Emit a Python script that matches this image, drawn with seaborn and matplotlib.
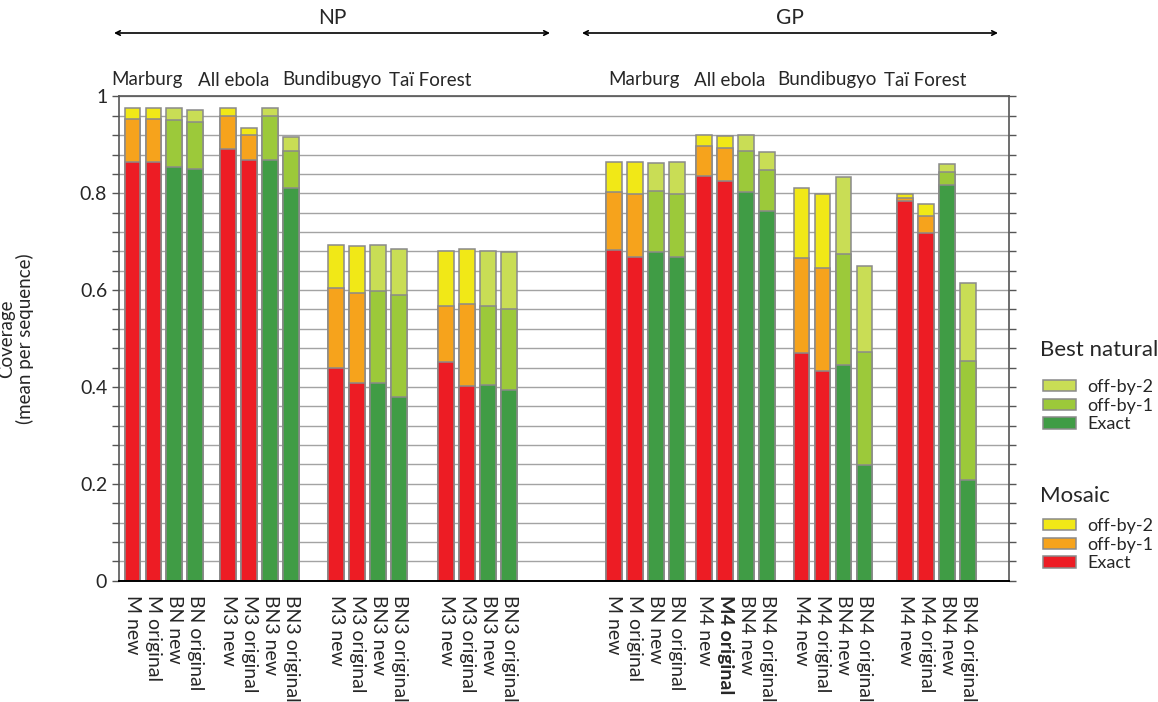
"""
Coverage of mosaic vs best-natural vaccine designs, stacked by tolerance (NP / GP).
"""

import numpy as np
import pandas as pd
import matplotlib
matplotlib.use("Agg")
import matplotlib.pyplot as plt
from matplotlib.patches import Patch
import seaborn as sns

# ---- values ----
proteins = ["NP", "GP"]
viruses = ["Marburg", "All ebola", "Bundibugyo", "Taï Forest"]
kinds = ["Mosaic", "Mosaic", "Best natural", "Best natural"]  # per bar inside a group

labels_np = ["M new", "M original", "BN new", "BN original",
             "M3 new", "M3 original", "BN3 new", "BN3 original",
             "M3 new", "M3 original", "BN3 new", "BN3 original",
             "M3 new", "M3 original", "BN3 new", "BN3 original"]
labels_gp = ["M new", "M original", "BN new", "BN original",
             "M4 new", "M4 original", "BN4 new", "BN4 original",
             "M4 new", "M4 original", "BN4 new", "BN4 original",
             "M4 new", "M4 original", "BN4 new", "BN4 original"]

# cumulative coverage: exact, exact + off-by-1, exact + off-by-1 + off-by-2
exact_np = [0.864, 0.864, 0.855, 0.850, 0.891, 0.868, 0.868, 0.810,
            0.439, 0.409, 0.409, 0.380, 0.452, 0.403, 0.404, 0.394]
within1_np = [0.953, 0.953, 0.951, 0.947, 0.960, 0.920, 0.960, 0.888,
              0.604, 0.594, 0.598, 0.590, 0.568, 0.571, 0.568, 0.561]
within2_np = [0.977, 0.977, 0.977, 0.972, 0.975, 0.935, 0.975, 0.917,
              0.694, 0.692, 0.694, 0.684, 0.681, 0.684, 0.681, 0.679]

exact_gp = [0.683, 0.669, 0.678, 0.668, 0.836, 0.825, 0.802, 0.763,
            0.470, 0.432, 0.446, 0.238, 0.783, 0.717, 0.818, 0.208]
within1_gp = [0.803, 0.799, 0.804, 0.799, 0.898, 0.894, 0.887, 0.848,
              0.666, 0.645, 0.675, 0.473, 0.791, 0.752, 0.843, 0.453]
within2_gp = [0.864, 0.865, 0.863, 0.865, 0.921, 0.919, 0.921, 0.885,
              0.810, 0.798, 0.833, 0.650, 0.799, 0.778, 0.861, 0.615]

# ---- layout (group start positions on the x axis, one unit per bar) ----
group_starts = [0.0, 4.57, 9.71, 14.95, 22.92, 27.23, 31.86, 36.8]

colors = {
    "Mosaic": {"exact": "#ED1C24", "within1": "#F6A31C", "within2": "#F1E817"},
    "Best natural": {"exact": "#409C45", "within1": "#9CC93A", "within2": "#C9DD55"},
}
EDGE = "#8a8a8a"

rows = []
for p, (labels, ex, w1, w2) in enumerate([(labels_np, exact_np, within1_np, within2_np),
                                           (labels_gp, exact_gp, within1_gp, within2_gp)]):
    for i in range(len(labels)):
        g = i // 4
        rows.append({
            "protein": proteins[p], "virus": viruses[g], "label": labels[i],
            "kind": kinds[i % 4],
            "pos": group_starts[p * 4 + g] + i % 4,
            "exact": ex[i], "within1": w1[i], "within2": w2[i],
        })
df = pd.DataFrame(rows)

sns.set_style("ticks")
plt.rcParams["font.family"] = ["Lato", "DejaVu Sans"]

fig = plt.figure(figsize=(11.58, 7.02), dpi=100)
ax = fig.add_axes([0.1028, 0.1728, 0.7685, 0.6899])

# stacked: draw the cumulative tops first, the exact part last
for kind in ["Mosaic", "Best natural"]:
    sub = df[df["kind"] == kind]
    for col in ["within2", "within1", "exact"]:
        sns.barplot(data=sub, x="pos", y=col, native_scale=True, width=0.76,
                    color=colors[kind][col], saturation=1, errorbar=None,
                    edgecolor=EDGE, linewidth=1.1, ax=ax)

ax.set_xlim(-0.64, 41.74)
ax.set_ylim(0, 1)
ax.set_yticks(np.arange(0, 1.01, 0.2))
ax.set_yticklabels(["0", "0.2", "0.4", "0.6", "0.8", "1"], fontsize=14)
ax.set_yticks(np.arange(0, 1.0, 0.04), minor=True)
ax.grid(axis="y", which="both", color="#a3a3a3", linewidth=1.0)
ax.set_axisbelow(True)

ax.set_xticks(df["pos"])
ax.set_xticklabels(df["label"], rotation=-90, fontsize=14, va="top", ha="center")
ax.get_xticklabels()[21].set_fontweight("bold")
ax.tick_params(axis="x", length=0, pad=10)
ax.tick_params(axis="y", which="both", direction="out", length=5, color="#555555",
               right=True, left=True, width=1)
ax.set_xlabel("")
ax.set_ylabel("Coverage\n(mean per sequence)", fontsize=13.5, linespacing=1.1)
ax.yaxis.set_label_coords(-0.095, 0.5)

for s in ["left", "right", "top"]:
    ax.spines[s].set_color("#555555")
    ax.spines[s].set_linewidth(1.2)
ax.spines["bottom"].set_color("black")
ax.spines["bottom"].set_linewidth(1.4)

# protein headers with arrows
W, H = 1158, 702
for name, x0, x1 in [("NP", 114, 550), ("GP", 582, 998)]:
    fig.text((x0 + x1) / 2 / W, 1 - 18 / H, name, ha="center", va="center", fontsize=15)
    ax.annotate("", xy=(x1 / W, 1 - 33 / H), xytext=(x0 / W, 1 - 33 / H),
                xycoords="figure fraction", textcoords="figure fraction",
                arrowprops=dict(arrowstyle="<->", lw=1.2, color="black",
                                shrinkA=0, shrinkB=0, mutation_scale=8))

# virus labels above the axes
for xs in [[147, 234, 332, 430], [644, 730, 827, 925]]:
    for v, xp in zip(viruses, xs):
        fig.text(xp / W, 1 - 80 / H, v, ha="center", va="center", fontsize=13.5)

# legends
for title, ty, ly, kind in [("Best natural", 350, 379, "Best natural"),
                            ("Mosaic", 496, 518, "Mosaic")]:
    fig.text(1040 / W, 1 - ty / H, title, ha="left", va="center", fontsize=16)
    handles = [Patch(facecolor=colors[kind][c], edgecolor=EDGE, linewidth=1.1, label=l)
               for c, l in [("within2", "off-by-2"), ("within1", "off-by-1"),
                            ("exact", "Exact")]]
    fig.legend(handles=handles, loc="upper left",
               bbox_to_anchor=(1043 / W, 1 - ly / H), frameon=False,
               fontsize=13, handlelength=1.85, handleheight=0.6,
               handletextpad=0.6, labelspacing=0.15, borderpad=0, borderaxespad=0)

fig.savefig("out.png", dpi=100)
plt.close(fig)
